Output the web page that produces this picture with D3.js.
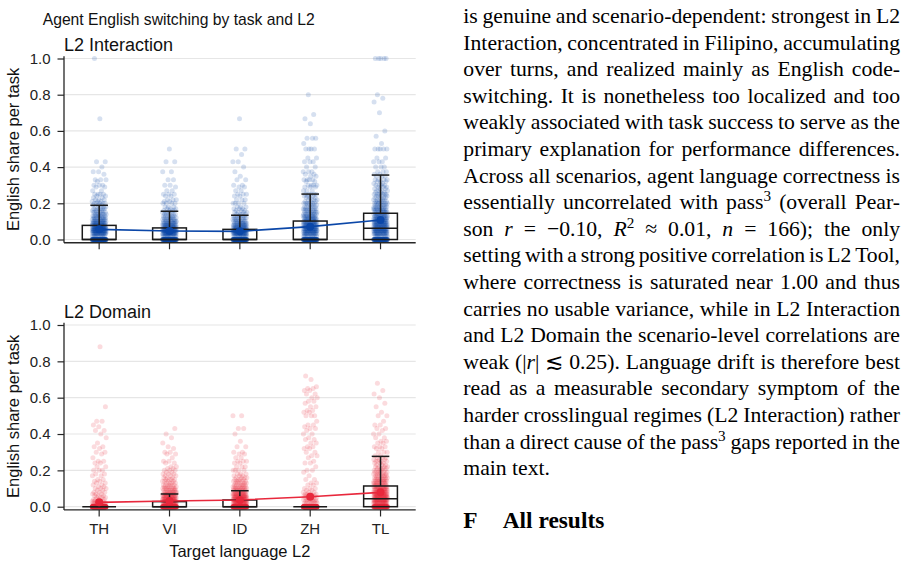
<!DOCTYPE html>
<html>
<head>
<meta charset="utf-8">
<script src="https://cdn.jsdelivr.net/npm/d3@7"></script>
<style>
  body { margin: 0; background: #fff; }
  svg { display: block; }
</style>
</head>
<body>
<svg id="fig" width="909" height="567"></svg>
<script>
const languages = ["TH", "VI", "ID", "ZH", "TL"];
const yTicks = [0, 0.2, 0.4, 0.6, 0.8, 1.0];

// per-task English share, as [share, number of tasks]
const interactionTH = [[0,120],[0.02,10],[0.03,14],[0.04,18],[0.05,22],[0.06,22],[0.07,18],[0.08,14],[0.09,12],[0.1,12],[0.11,9],[0.12,8],[0.13,7],[0.14,7],[0.15,6],[0.16,5],[0.17,5],[0.18,4],[0.19,3],[0.2,5],[0.21,3],[0.22,3],[0.23,2],[0.24,2],[0.25,4],[0.27,2],[0.29,2],[0.3,3],[0.32,1],[0.33,3],[0.36,1],[0.375,2],[0.4,1],[0.43,2],[0.667,1],[1.0,1]];
const interactionVI = [[0,110],[0.02,12],[0.03,16],[0.04,20],[0.05,22],[0.06,18],[0.07,14],[0.08,12],[0.09,10],[0.1,9],[0.11,8],[0.12,6],[0.13,5],[0.14,5],[0.15,4],[0.16,4],[0.17,3],[0.18,3],[0.2,4],[0.21,2],[0.22,3],[0.24,2],[0.25,3],[0.27,2],[0.29,1],[0.3,2],[0.33,2],[0.375,2],[0.43,2],[0.5,1]];
const interactionID = [[0,120],[0.02,12],[0.03,16],[0.04,20],[0.05,20],[0.06,16],[0.07,13],[0.08,11],[0.09,9],[0.1,8],[0.11,6],[0.12,6],[0.13,5],[0.14,4],[0.15,4],[0.16,3],[0.17,3],[0.18,3],[0.2,4],[0.22,3],[0.24,2],[0.25,3],[0.27,2],[0.29,2],[0.3,2],[0.33,2],[0.35,1],[0.375,1],[0.4,1],[0.43,2],[0.47,1],[0.5,2],[0.667,1]];
const interactionZH = [[0,110],[0.02,10],[0.03,12],[0.04,14],[0.05,16],[0.06,16],[0.07,14],[0.08,13],[0.09,12],[0.1,12],[0.11,10],[0.12,10],[0.13,8],[0.14,8],[0.15,7],[0.16,6],[0.17,6],[0.18,5],[0.19,4],[0.2,6],[0.21,3],[0.22,4],[0.23,3],[0.24,3],[0.25,5],[0.27,3],[0.29,3],[0.3,4],[0.32,2],[0.33,4],[0.35,2],[0.36,2],[0.375,3],[0.4,2],[0.43,3],[0.45,2],[0.5,4],[0.53,1],[0.56,3],[0.64,1],[0.667,1],[0.69,1],[0.8,1]];
const interactionTL = [[0,100],[0.02,10],[0.03,12],[0.04,14],[0.05,16],[0.06,16],[0.07,15],[0.08,14],[0.09,13],[0.1,13],[0.11,12],[0.12,11],[0.13,10],[0.14,10],[0.15,9],[0.16,8],[0.17,8],[0.18,7],[0.19,6],[0.2,7],[0.21,5],[0.22,5],[0.23,4],[0.24,4],[0.25,6],[0.26,3],[0.27,4],[0.28,3],[0.29,3],[0.3,4],[0.31,2],[0.32,3],[0.33,4],[0.35,3],[0.36,2],[0.375,3],[0.4,3],[0.43,3],[0.45,2],[0.5,5],[0.53,1],[0.57,1],[0.6,1],[0.7,1],[0.76,1],[0.78,1],[0.8,1],[1.0,5]];

const domainTH = [[0,300],[0.01,8],[0.02,10],[0.03,6],[0.04,4],[0.05,4],[0.06,3],[0.07,3],[0.08,3],[0.09,2],[0.1,3],[0.11,2],[0.12,2],[0.13,2],[0.14,2],[0.15,2],[0.17,2],[0.18,2],[0.2,3],[0.22,2],[0.24,2],[0.25,2],[0.27,1],[0.29,1],[0.3,2],[0.32,1],[0.33,2],[0.35,1],[0.38,1],[0.4,1],[0.42,2],[0.44,1],[0.45,1],[0.47,2],[0.55,1],[0.88,1]];
const domainVI = [[0,220],[0.01,12],[0.02,16],[0.03,18],[0.04,16],[0.05,14],[0.06,12],[0.07,10],[0.08,8],[0.09,7],[0.1,7],[0.11,5],[0.12,5],[0.13,4],[0.14,4],[0.15,4],[0.16,3],[0.17,3],[0.18,3],[0.19,2],[0.2,3],[0.21,2],[0.22,2],[0.24,2],[0.25,2],[0.27,1],[0.29,2],[0.3,2],[0.32,1],[0.33,1],[0.35,1],[0.38,1],[0.4,1],[0.43,1]];
const domainID = [[0,200],[0.01,12],[0.02,16],[0.03,18],[0.04,18],[0.05,16],[0.06,14],[0.07,12],[0.08,10],[0.09,8],[0.1,8],[0.11,6],[0.12,6],[0.13,5],[0.14,5],[0.15,4],[0.16,4],[0.17,3],[0.18,3],[0.2,4],[0.22,3],[0.24,2],[0.25,3],[0.27,2],[0.29,2],[0.3,2],[0.33,2],[0.36,1],[0.4,1],[0.43,2],[0.5,2]];
const domainZH = [[0,300],[0.01,4],[0.02,6],[0.03,6],[0.04,5],[0.05,6],[0.06,5],[0.07,4],[0.08,3],[0.09,2],[0.1,3],[0.12,2],[0.13,2],[0.15,2],[0.17,1],[0.19,1],[0.2,2],[0.22,1],[0.24,2],[0.25,1],[0.27,1],[0.28,2],[0.3,2],[0.32,2],[0.33,2],[0.35,2],[0.37,2],[0.38,1],[0.4,2],[0.42,1],[0.43,2],[0.44,1],[0.45,2],[0.47,1],[0.5,3],[0.52,2],[0.53,2],[0.55,2],[0.57,1],[0.58,2],[0.6,2],[0.62,2],[0.64,2],[0.65,2],[0.66,1],[0.7,1],[0.72,1]];
const domainTL = [[0,120],[0.01,10],[0.02,14],[0.03,16],[0.04,18],[0.05,18],[0.06,16],[0.07,15],[0.08,13],[0.09,12],[0.1,11],[0.11,10],[0.12,9],[0.13,8],[0.14,8],[0.15,7],[0.16,6],[0.17,6],[0.18,5],[0.19,5],[0.2,5],[0.21,4],[0.22,4],[0.23,3],[0.24,3],[0.25,4],[0.26,3],[0.27,3],[0.28,2],[0.3,3],[0.32,2],[0.33,3],[0.35,2],[0.36,2],[0.38,2],[0.4,2],[0.42,1],[0.43,2],[0.45,2],[0.47,1],[0.5,2],[0.52,1],[0.55,1],[0.57,1],[0.6,1],[0.62,1],[0.64,1],[0.68,1]];

// box summaries (q1 is 0 everywhere)
const interactionMedian = [0, 0, 0, 0, 0.062];
const interactionQ3 = [0.078, 0.064, 0.056, 0.102, 0.145];
const interactionWhisker = [0.189, 0.156, 0.134, 0.251, 0.356];
const interactionMean = [0.056, 0.047, 0.045, 0.071, 0.108];

const domainMedian = [0, 0, 0, 0, 0.044];
const domainQ3 = [0, 0.028, 0.037, 0, 0.114];
const domainWhisker = [0, 0.07, 0.088, 0, 0.277];
const domainMean = [0.024, 0.031, 0.037, 0.055, 0.079];

const textLines = [
  "is genuine and scenario-dependent: strongest in L2",
  "Interaction, concentrated in Filipino, accumulating",
  "over turns, and realized mainly as English code-",
  "switching. It is nonetheless too localized and too",
  "weakly associated with task success to serve as the",
  "primary explanation for performance differences.",
  "Across all scenarios, agent language correctness is",
  "essentially uncorrelated with pass^3^ (overall Pear-",
  "son *r* = \u22120.10, *R*^2^ \u2248 0.01, *n* = 166); the only",
  "setting with a strong positive correlation is L2 Tool,",
  "where correctness is saturated near 1.00 and thus",
  "carries no usable variance, while in L2 Interaction",
  "and L2 Domain the scenario-level correlations are",
  "weak (|*r*| \u2272 0.25). Language drift is therefore best",
  "read as a measurable secondary symptom of the",
  "harder crosslingual regimes (L2 Interaction) rather",
  "than a direct cause of the pass^3^ gaps reported in the",
  "main text."
];

const sans = "'Liberation Sans', Arial, Helvetica, sans-serif";
const serif = "'Liberation Serif', 'Times New Roman', serif";
const ink = "#262626";

const svg = d3.select("#fig");

const panels = [
  { title: "L2 Interaction", groups: [interactionTH, interactionVI, interactionID, interactionZH, interactionTL],
    median: interactionMedian, q3: interactionQ3, whisker: interactionWhisker, mean: interactionMean,
    color: "#0b47a8", top: 58.5, bottom: 239.5, titleY: 50.7, xLabels: false },
  { title: "L2 Domain", groups: [domainTH, domainVI, domainID, domainZH, domainTL],
    median: domainMedian, q3: domainQ3, whisker: domainWhisker, mean: domainMean,
    color: "#e8283c", top: 325, bottom: 506.7, titleY: 318.3, xLabels: true }
];

const x = d3.scaleBand().domain(languages).range([64, 415.7]).paddingInner(0).paddingOuter(0);
const bw = x.bandwidth();
const cx = d => x(d) + bw / 2;

svg.append("text")
  .attr("x", 42.7).attr("y", 25)
  .attr("font-family", sans).attr("font-size", 15.7).attr("fill", "#111")
  .text("Agent English switching by task and L2");

panels.forEach(p => {
  const y = d3.scaleLinear().domain([0, 1]).range([p.bottom, p.top]);
  const g = svg.append("g");
  const spineBottom = y(-0.018), spineTop = y(1.013);

  // grid
  g.append("g").selectAll("line").data(yTicks).join("line")
    .attr("x1", 64).attr("x2", 415.7)
    .attr("y1", d => y(d)).attr("y2", d => y(d))
    .attr("stroke", "#e6e6e6").attr("stroke-width", 1.2);

  // points, jittered horizontally
  languages.forEach((lang, li) => {
    const pts = [];
    p.groups[li].forEach(([v, n]) => { for (let k = 0; k < n; k++) pts.push(v); });
    g.append("g").selectAll("circle").data(pts).join("circle")
      .attr("cx", (d, i) => cx(lang) + (((i * 0.6180339887 + li * 0.37) % 1) - 0.5) * 0.2 * bw)
      .attr("cy", d => y(d))
      .attr("r", 2.5)
      .attr("fill", p.color)
      .attr("fill-opacity", 0.17);
  });

  // boxes
  const bx = 0.48 * bw, cap = 0.25 * bw;
  const boxes = g.append("g").attr("stroke", "#1a1a1a").attr("stroke-width", 1.5).attr("fill", "none");
  languages.forEach((lang, i) => {
    const c = cx(lang);
    boxes.append("line").attr("x1", c).attr("x2", c).attr("y1", y(p.q3[i])).attr("y2", y(p.whisker[i]));
    boxes.append("line").attr("x1", c - cap / 2).attr("x2", c + cap / 2).attr("y1", y(p.whisker[i])).attr("y2", y(p.whisker[i]));
    boxes.append("rect").attr("x", c - bx / 2).attr("width", bx)
      .attr("y", y(p.q3[i])).attr("height", Math.max(0, y(0) - y(p.q3[i])));
    boxes.append("line").attr("x1", c - bx / 2).attr("x2", c + bx / 2).attr("y1", y(p.median[i])).attr("y2", y(p.median[i]));
  });

  // mean line
  const line = d3.line().x((d, i) => cx(languages[i])).y(d => y(d));
  g.append("path").datum(p.mean).attr("d", line)
    .attr("fill", "none").attr("stroke", p.color).attr("stroke-width", 1.6);
  g.append("g").selectAll("circle").data(p.mean).join("circle")
    .attr("cx", (d, i) => cx(languages[i])).attr("cy", d => y(d)).attr("r", 4)
    .attr("fill", p.color);

  // y axis
  const ya = g.append("g").attr("transform", "translate(64,0)")
    .call(d3.axisLeft(y).tickValues(yTicks).tickFormat(d3.format(".1f")).tickSize(6.5).tickPadding(7));
  ya.select(".domain").remove();
  ya.selectAll(".tick line").attr("stroke", ink).attr("stroke-width", 1.2);
  ya.selectAll(".tick text").attr("font-family", sans).attr("font-size", 15).attr("fill", "#222");

  // x axis
  const xa = g.append("g").attr("transform", `translate(0,${spineBottom})`)
    .call(d3.axisBottom(x).tickSize(6.5).tickPadding(6.5).tickFormat(p.xLabels ? (d => d) : () => ""));
  xa.select(".domain").remove();
  xa.selectAll(".tick line").attr("stroke", ink).attr("stroke-width", 1.2);
  xa.selectAll(".tick text").attr("font-family", sans).attr("font-size", 15).attr("fill", "#222");

  // spines
  g.append("line").attr("x1", 64).attr("x2", 64).attr("y1", spineTop).attr("y2", spineBottom)
    .attr("stroke", ink).attr("stroke-width", 1.3);
  g.append("line").attr("x1", 64).attr("x2", 415.7).attr("y1", spineBottom).attr("y2", spineBottom)
    .attr("stroke", ink).attr("stroke-width", 1.3);

  g.append("text").attr("x", 64).attr("y", p.titleY)
    .attr("font-family", sans).attr("font-size", 18).attr("fill", "#111").text(p.title);

  g.append("text")
    .attr("transform", `translate(19,${(spineTop + spineBottom) / 2}) rotate(-90)`)
    .attr("text-anchor", "middle")
    .attr("font-family", sans).attr("font-size", 16.5).attr("fill", "#111")
    .text("English share per task");
});

svg.append("text").attr("x", 239.8).attr("y", 556.5).attr("text-anchor", "middle")
  .attr("font-family", sans).attr("font-size", 16.5).attr("fill", "#111")
  .text("Target language L2");

// justified body text
const textLeft = 463.3, textRight = 900, fontSize = 21.7;
const body = svg.append("g").attr("font-family", serif).attr("font-size", fontSize).attr("fill", "#000");

function addWord(parent, word) {
  const t = parent.append("text");
  let raised = false;
  word.split(/(\*[^*]+\*|\^[^^]+\^)/).filter(s => s.length).forEach(s => {
    const ts = t.append("tspan");
    if (s[0] === "*") {
      ts.attr("font-style", "italic").text(s.slice(1, -1));
      if (raised) { ts.attr("dy", 8); raised = false; }
    } else if (s[0] === "^") {
      ts.attr("font-size", fontSize * 0.7).attr("dy", -8).text(s.slice(1, -1));
      raised = true;
    } else {
      ts.text(s);
      if (raised) { ts.attr("dy", 8); raised = false; }
    }
  });
  return t;
}

textLines.forEach((ln, i) => {
  const baseY = 23 + i * 26.6;
  const words = ln.split(" ");
  const row = body.append("g");
  const nodes = words.map(w => addWord(row, w).attr("y", baseY));
  const widths = nodes.map(n => n.node().getComputedTextLength());
  const total = d3.sum(widths);
  const last = i === textLines.length - 1;
  const gap = last ? fontSize * 0.25 : (textRight - textLeft - total) / (words.length - 1);
  let cur = textLeft;
  nodes.forEach((n, k) => { n.attr("x", cur); cur += widths[k] + gap; });
});

const head = svg.append("g").attr("font-family", serif).attr("font-size", 23.4).attr("font-weight", "bold");
head.append("text").attr("x", 463.3).attr("y", 528.3).text("F");
head.append("text").attr("x", 502.7).attr("y", 528.3).text("All results");
</script>
</body>
</html>
